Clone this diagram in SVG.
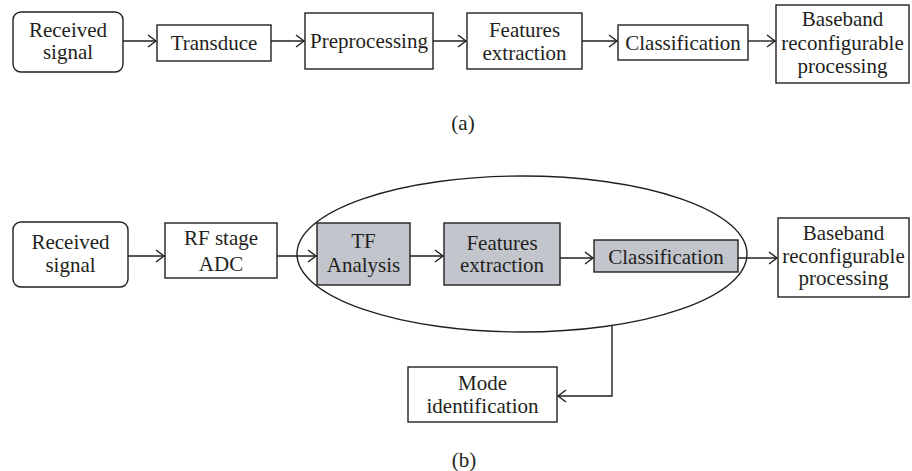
<svg xmlns="http://www.w3.org/2000/svg" width="912" height="471" viewBox="0 0 912 471">
<style>
.box{fill:#fff;stroke:#231f20;stroke-width:1.4}
.gray{fill:#c2c5cc;stroke:#231f20;stroke-width:1.4}
text{font-family:"Liberation Serif",serif;font-size:21px;fill:#231f20;text-anchor:middle}
.c{fill:none;stroke:#231f20;stroke-width:1.4}
</style>
<defs>
<marker id="ah" markerUnits="userSpaceOnUse" markerWidth="12" markerHeight="14" refX="9" refY="7" orient="auto">
<path d="M1,1 L9,7 L1,13" fill="none" stroke="#231f20" stroke-width="1.4"/>
</marker>
</defs>
<rect width="912" height="471" fill="#fff"/>
<g id="a-received"><rect class="box" x="13" y="12" width="110" height="60" rx="8"/><text x="68" y="37">Received</text><text x="68" y="59">signal</text></g>
<g id="a-transduce"><rect class="box" x="157" y="25" width="114" height="36"/><text x="214" y="50">Transduce</text></g>
<g id="a-preprocessing"><rect class="box" x="305" y="13" width="128" height="56"/><text x="369" y="48">Preprocessing</text></g>
<g id="a-features"><rect class="box" x="467" y="13" width="115" height="56"/><text x="524.5" y="37">Features</text><text x="524.5" y="60">extraction</text></g>
<g id="a-classification"><rect class="box" x="618" y="25" width="130" height="35"/><text x="683" y="50">Classification</text></g>
<g id="a-baseband"><rect class="box" x="776" y="5" width="133" height="78"/><text x="842.5" y="26">Baseband</text><text x="842.5" y="50">reconfigurable</text><text x="842.5" y="73">processing</text></g>
<text x="463" y="130">(a)</text>
<g id="b-received"><rect class="box" x="13" y="222" width="115" height="65" rx="8"/><text x="70.5" y="249">Received</text><text x="70.5" y="272">signal</text></g>
<g id="b-rf"><rect class="box" x="165" y="223" width="112" height="55"/><text x="221" y="245">RF stage</text><text x="221" y="271">ADC</text></g>
<ellipse id="b-group" class="c" cx="522" cy="254" rx="225" ry="78"/>
<g id="b-tf"><rect class="gray" x="317" y="223" width="93" height="62"/><text x="363.5" y="248">TF</text><text x="363.5" y="272">Analysis</text></g>
<g id="b-features"><rect class="gray" x="444" y="223" width="116" height="62"/><text x="502" y="250">Features</text><text x="502" y="272">extraction</text></g>
<g id="b-classification"><rect class="gray" x="594" y="240" width="144" height="32"/><text x="666" y="264">Classification</text></g>
<g id="b-baseband"><rect class="box" x="778" y="218" width="131" height="79"/><text x="843.5" y="240">Baseband</text><text x="843.5" y="263">reconfigurable</text><text x="843.5" y="285">processing</text></g>
<g id="b-mode"><rect class="box" x="408" y="367" width="149" height="55"/><text x="482.5" y="390">Mode</text><text x="482.5" y="413">identification</text></g>
<text x="464" y="467">(b)</text>
<g id="connectors" class="c">
<line x1="123" y1="41" x2="156" y2="41" marker-end="url(#ah)"/>
<line x1="271" y1="41" x2="304" y2="41" marker-end="url(#ah)"/>
<line x1="433" y1="41" x2="466" y2="41" marker-end="url(#ah)"/>
<line x1="582" y1="41" x2="617" y2="41" marker-end="url(#ah)"/>
<line x1="748" y1="41" x2="775" y2="41" marker-end="url(#ah)"/>
<line x1="128" y1="256" x2="164" y2="256" marker-end="url(#ah)"/>
<line x1="277" y1="256" x2="316" y2="256" marker-end="url(#ah)"/>
<line x1="410" y1="256" x2="443" y2="256" marker-end="url(#ah)"/>
<line x1="560" y1="258" x2="593" y2="258" marker-end="url(#ah)"/>
<line x1="738" y1="258" x2="777" y2="258" marker-end="url(#ah)"/>
<polyline points="612,325 612,396 558,396" marker-end="url(#ah)"/>
</g>
</svg>
